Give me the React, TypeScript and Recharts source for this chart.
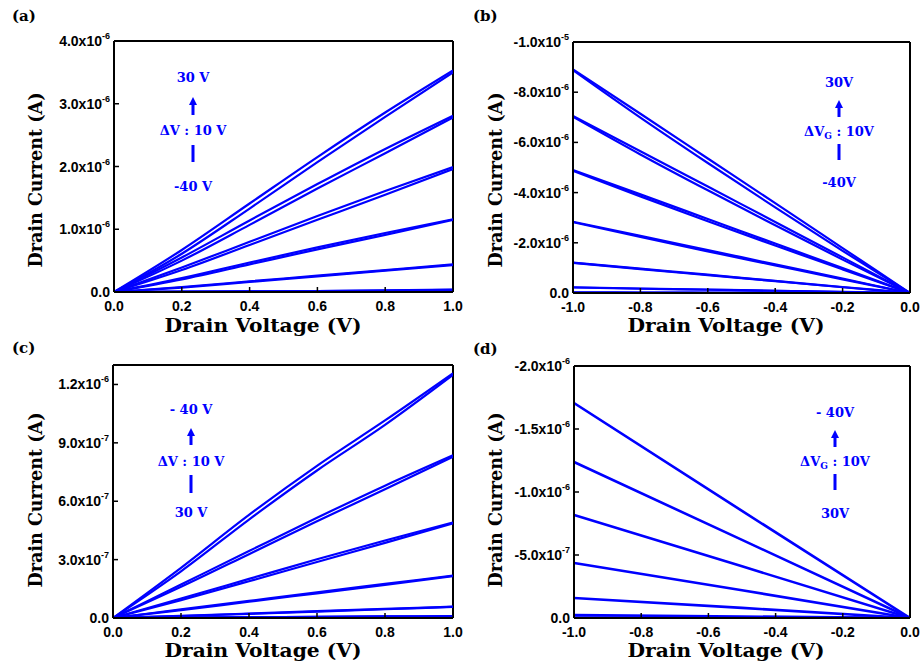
import React from "react";
import { LineChart, Line, XAxis, YAxis, ReferenceLine } from "recharts";

const BLUE = "#0000ff";
const SANS = "'Liberation Sans', Arial, sans-serif";
const SERIF = "'DejaVu Serif', serif";

// Gate voltages (top curve first)
const gatesPos = ["30 V", "20 V", "10 V", "0 V", "-10 V", "-20 V", "-30 V", "-40 V"];
const gatesNeg = ["-40 V", "-30 V", "-20 V", "-10 V", "0 V", "10 V", "20 V", "30 V"];

// Panel (a): drain voltage (V), current in µA, forward / reverse sweeps
const aDrain = [0, 0.2, 0.4, 0.6, 0.8, 1.0];
const aFwd = [
  [0, 0.67, 1.41, 2.15, 2.86, 3.53],
  [0, 0.55, 1.14, 1.72, 2.28, 2.81],
  [0, 0.39, 0.80, 1.21, 1.61, 1.99],
  [0, 0.22, 0.47, 0.71, 0.94, 1.16],
  [0, 0.08, 0.17, 0.26, 0.35, 0.44],
  [0, 0.005, 0.01, 0.015, 0.025, 0.04],
  [0, 0.002, 0.004, 0.006, 0.008, 0.01],
  [0, 0, 0, 0, 0, 0.002],
];
const aRev = [
  [0, 0.61, 1.33, 2.07, 2.79, 3.50],
  [0, 0.50, 1.07, 1.65, 2.21, 2.78],
  [0, 0.35, 0.75, 1.15, 1.55, 1.96],
  [0, 0.20, 0.44, 0.68, 0.91, 1.15],
  [0, 0.07, 0.16, 0.25, 0.34, 0.43],
  [0, 0.004, 0.009, 0.014, 0.022, 0.035],
  [0, 0.001, 0.003, 0.005, 0.007, 0.009],
  [0, 0, 0, 0, 0, 0.001],
];

// Panel (b)
const bDrain = [-1.0, -0.8, -0.6, -0.4, -0.2, 0];
const bFwd = [
  [-8.91, -7.14, -5.36, -3.58, -1.79, 0],
  [-7.05, -5.65, -4.24, -2.83, -1.42, 0],
  [-4.90, -3.93, -2.95, -1.97, -0.99, 0],
  [-2.84, -2.28, -1.71, -1.14, -0.57, 0],
  [-1.21, -0.97, -0.73, -0.48, -0.24, 0],
  [-0.23, -0.18, -0.14, -0.09, -0.05, 0],
  [-0.03, -0.02, -0.02, -0.01, -0.01, 0],
  [0, 0, 0, 0, 0, 0],
];
const bRev = [
  [-8.88, -6.99, -5.18, -3.41, -1.68, 0],
  [-7.02, -5.52, -4.09, -2.70, -1.33, 0],
  [-4.87, -3.85, -2.86, -1.89, -0.94, 0],
  [-2.82, -2.23, -1.66, -1.10, -0.54, 0],
  [-1.20, -0.95, -0.71, -0.47, -0.23, 0],
  [-0.22, -0.17, -0.13, -0.09, -0.04, 0],
  [-0.02, -0.02, -0.01, -0.01, 0, 0],
  [0, 0, 0, 0, 0, 0],
];

// Panel (c)
const cDrain = [0, 0.2, 0.4, 0.6, 0.8, 1.0];
const cFwd = [
  [0, 0.258, 0.530, 0.782, 1.015, 1.257],
  [0, 0.172, 0.344, 0.515, 0.680, 0.836],
  [0, 0.100, 0.201, 0.302, 0.398, 0.491],
  [0, 0.044, 0.088, 0.132, 0.175, 0.218],
  [0, 0.011, 0.023, 0.035, 0.047, 0.058],
  [0, 0.002, 0.004, 0.006, 0.008, 0.010],
  [0, 0, 0.001, 0.001, 0.002, 0.002],
  [0, 0, 0, 0, 0, 0],
];
const cRev = [
  [0, 0.240, 0.506, 0.758, 0.992, 1.249],
  [0, 0.160, 0.328, 0.497, 0.662, 0.829],
  [0, 0.092, 0.189, 0.288, 0.386, 0.486],
  [0, 0.040, 0.084, 0.127, 0.170, 0.215],
  [0, 0.010, 0.021, 0.033, 0.045, 0.057],
  [0, 0.002, 0.004, 0.006, 0.008, 0.010],
  [0, 0, 0.001, 0.001, 0.002, 0.002],
  [0, 0, 0, 0, 0, 0],
];

// Panel (d)
const dDrain = [-1.0, -0.5, 0];
const dCurr = [
  [-1.706, -0.85, 0],
  [-1.238, -0.62, 0],
  [-0.817, -0.41, 0],
  [-0.437, -0.22, 0],
  [-0.159, -0.08, 0],
  [-0.024, -0.012, 0],
  [-0.004, -0.002, 0],
  [0, 0, 0],
];

const xTicksPos = [0, 0.2, 0.4, 0.6, 0.8, 1.0];
const xTicksNeg = [-1.0, -0.8, -0.6, -0.4, -0.2, 0];
const aYTicks = [0, 1e-6, 2e-6, 3e-6, 4e-6];
const bYTicks = [0, -2e-6, -4e-6, -6e-6, -8e-6, -1e-5];
const cYTicks = [0, 3e-7, 6e-7, 9e-7, 1.2e-6];
const dYTicks = [0, -5e-7, -1e-6, -1.5e-6, -2e-6];

function buildTable(xs: number[], groups: number[][][]) {
  return xs.map((x, i) => {
    const row: any = { x };
    groups.forEach((g, gi) => {
      g.forEach((s, si) => {
        row[`g${gi}s${si}`] = s[i] * 1e-6;
      });
    });
    return row;
  });
}

function SciTick(props: any) {
  const { x, y, payload } = props;
  const v = Number(payload.value);
  let base = "0.0";
  let exp = "";
  if (Math.abs(v) > 1e-15) {
    const [m, e] = v.toExponential(1).split("e");
    base = m + "x10";
    exp = String(parseInt(e, 10));
  }
  return (
    <text x={x} y={y + 5} textAnchor="end" fontFamily={SANS} fontWeight="bold" fontSize={14} fill="#000">
      {base}
      {exp ? (
        <tspan dy={-7} fontSize={9}>
          {exp}
        </tspan>
      ) : null}
    </text>
  );
}

function XTick(props: any) {
  const { x, y, payload } = props;
  return (
    <text x={x} y={y + 5} textAnchor="middle" fontFamily={SANS} fontWeight="bold" fontSize={14} fill="#000">
      {Number(payload.value).toFixed(1)}
    </text>
  );
}

type PanelProps = {
  px: number;
  py: number;
  pw: number;
  ph: number;
  data: any[];
  groups: number;
  sweeps: number;
  xDomain: [number, number];
  xTicks: number[];
  yDomain: [number, number];
  yTicks: number[];
  reversed: boolean;
  names: string[];
  sw: number;
};

function Panel(p: PanelProps) {
  const width = p.pw + 120;
  const height = p.ph + 45;
  const lines: React.ReactNode[] = [];
  for (let s = 0; s < p.sweeps; s++) {
    for (let g = 0; g < p.groups; g++) {
      lines.push(
        <Line
          key={`g${s}s${g}`}
          dataKey={`g${s}s${g}`}
          name={p.names[g]}
          type="monotone"
          stroke={BLUE}
          strokeWidth={p.sw}
          dot={false}
          activeDot={false}
          isAnimationActive={false}
        />
      );
    }
  }
  const yTop = p.reversed ? p.yDomain[0] : p.yDomain[1];
  return (
    <div style={{ position: "absolute", left: p.px - 110, top: p.py - 10, width, height }}>
      <LineChart width={width} height={height} data={p.data} margin={{ top: 10, right: 10, left: 10, bottom: 5 }}>
        <XAxis
          dataKey="x"
          type="number"
          domain={p.xDomain}
          ticks={p.xTicks}
          height={30}
          tickSize={-5}
          tickMargin={19}
          axisLine={{ stroke: "#000", strokeWidth: 2 }}
          tickLine={{ stroke: "#000", strokeWidth: 1.5 }}
          tick={<XTick />}
          allowDataOverflow
          interval={0}
        />
        <YAxis
          type="number"
          domain={p.yDomain}
          ticks={p.yTicks}
          reversed={p.reversed}
          width={100}
          tickSize={-5}
          tickMargin={9}
          axisLine={{ stroke: "#000", strokeWidth: 2 }}
          tickLine={{ stroke: "#000", strokeWidth: 1.5 }}
          tick={<SciTick />}
          allowDataOverflow
          interval={0}
        />
        <ReferenceLine y={yTop} stroke="#000" strokeWidth={2} />
        <ReferenceLine x={p.xDomain[1]} stroke="#000" strokeWidth={2} />
        {lines}
      </LineChart>
    </div>
  );
}

function Arrow({ x, y1, y2 }: { x: number; y1: number; y2: number }) {
  return (
    <g fill={BLUE}>
      <polygon points={`${x},${y1} ${x - 4},${y1 + 8} ${x + 4},${y1 + 8}`} />
      <rect x={x - 1.5} y={y1 + 7} width={3} height={y2 - y1 - 7} />
    </g>
  );
}

function Bar({ x, y1, y2 }: { x: number; y1: number; y2: number }) {
  return <rect x={x - 1.5} y={y1} width={3} height={y2 - y1} fill={BLUE} />;
}

function Annot(props: { x: number; top: string; mid: React.ReactNode; bottom: string; yTop: number; yArrow: [number, number]; yMid: number; yBar: [number, number]; yBottom: number }) {
  const t = { fontFamily: SERIF, fontWeight: "bold" as const, fontSize: 13, fill: BLUE, textAnchor: "middle" as const };
  return (
    <g>
      <text x={props.x} y={props.yTop + 5} {...t}>{props.top}</text>
      <Arrow x={props.x} y1={props.yArrow[0]} y2={props.yArrow[1]} />
      <text x={props.x} y={props.yMid + 5} {...t}>{props.mid}</text>
      <Bar x={props.x} y1={props.yBar[0]} y2={props.yBar[1]} />
      <text x={props.x} y={props.yBottom + 5} {...t}>{props.bottom}</text>
    </g>
  );
}

const dvG = (
  <>
    ΔV<tspan fontSize={9} dy={3}>G</tspan>
    <tspan dy={-3}> : 10V</tspan>
  </>
);

function Overlay() {
  const title = { fontFamily: SERIF, fontWeight: "bold" as const, fontSize: 18, fill: "#000" };
  const lab = { fontFamily: SERIF, fontWeight: "bold" as const, fontSize: 15, fill: "#000" };
  const xt = (cx: number, y: number) => (
    <text x={cx} y={y} textAnchor="middle" textLength={197} lengthAdjust="spacingAndGlyphs" {...title}>
      Drain Voltage (V)
    </text>
  );
  const yt = (x: number, cy: number) => (
    <text transform={`translate(${x},${cy}) rotate(-90)`} textAnchor="middle" textLength={175} lengthAdjust="spacingAndGlyphs" {...title}>
      Drain Current (A)
    </text>
  );
  return (
    <svg width={924} height={672} style={{ position: "absolute", left: 0, top: 0, pointerEvents: "none" }}>
      <text x={12} y={21} {...lab}>(a)</text>
      <text x={473} y={21} {...lab}>(b)</text>
      <text x={12} y={353} {...lab}>(c)</text>
      <text x={473} y={354} {...lab}>(d)</text>
      {xt(263, 332)}
      {xt(726, 332)}
      {xt(263, 657)}
      {xt(726, 657)}
      {yt(42, 180)}
      {yt(502, 180)}
      {yt(42, 500)}
      {yt(502, 500)}
      <Annot x={193} top="30 V" mid="ΔV : 10 V" bottom="-40 V" yTop={77} yArrow={[97, 115]} yMid={130} yBar={[145, 162]} yBottom={186} />
      <Annot x={839} top="30V" mid={dvG} bottom="-40V" yTop={82} yArrow={[100, 117]} yMid={131} yBar={[144, 160]} yBottom={182} />
      <Annot x={191} top="- 40 V" mid="ΔV : 10 V" bottom="30 V" yTop={409} yArrow={[428, 445]} yMid={461} yBar={[475, 493]} yBottom={512} />
      <Annot x={835} top="- 40V" mid={dvG} bottom="30V" yTop={412} yArrow={[430, 447]} yMid={461} yBar={[474, 490]} yBottom={513} />
    </svg>
  );
}

const aData = buildTable(aDrain, [aFwd, aRev]);
const bData = buildTable(bDrain, [bFwd, bRev]);
const cData = buildTable(cDrain, [cFwd, cRev]);
const dData = buildTable(dDrain, [dCurr]);

export default function App() {
  return (
    <div style={{ position: "absolute", left: 0, top: 0, width: 924, height: 672, background: "#fff" }}>
      <Panel px={114} py={41} pw={339} ph={251} data={aData} groups={8} sweeps={2} xDomain={[0, 1]} xTicks={xTicksPos} yDomain={[0, 4e-6]} yTicks={aYTicks} reversed={false} names={gatesPos} sw={2.2} />
      <Panel px={573} py={42} pw={337} ph={251} data={bData} groups={8} sweeps={2} xDomain={[-1, 0]} xTicks={xTicksNeg} yDomain={[-1e-5, 0]} yTicks={bYTicks} reversed={true} names={gatesPos} sw={2.2} />
      <Panel px={113} py={365} pw={340} ph={253} data={cData} groups={8} sweeps={2} xDomain={[0, 1]} xTicks={xTicksPos} yDomain={[0, 1.3e-6]} yTicks={cYTicks} reversed={false} names={gatesNeg} sw={2.2} />
      <Panel px={574} py={366} pw={336} ph={252} data={dData} groups={8} sweeps={1} xDomain={[-1, 0]} xTicks={xTicksNeg} yDomain={[-2e-6, 0]} yTicks={dYTicks} reversed={true} names={gatesNeg} sw={2.6} />
      <Overlay />
    </div>
  );
}
